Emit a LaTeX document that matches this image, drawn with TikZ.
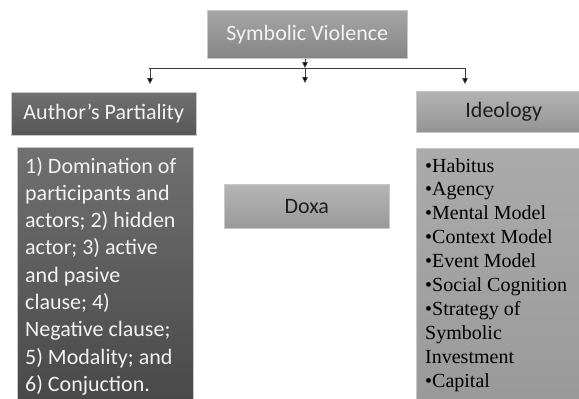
\documentclass[tikz,border=0pt]{standalone}
\usepackage{fontspec}
\setmainfont{Carlito}
\newfontfamily\listfont{Liberation Serif}
\usetikzlibrary{arrows.meta}

\definecolor{lighttext}{HTML}{F2F2F2}
\definecolor{darktext}{HTML}{1E1E1E}
\definecolor{edgegray}{HTML}{C8C8C8}
\definecolor{linegray}{HTML}{3A3A3A}

\tikzset{
  box/.style={draw=edgegray, line width=0.5pt, inner sep=0pt, anchor=north west},
  headlabel/.style={font=\fontsize{22}{26}\selectfont},
  bodytext/.style={inner sep=0pt, anchor=base west, align=flush left,
    execute at begin node=\frenchspacing},
  arr/.style={draw=linegray, line width=0.8pt,
    -{Triangle[width=5.5pt,length=6pt,fill=black]}},
  link/.style={draw=linegray, line width=0.8pt},
}

\begin{document}
\begin{tikzpicture}[x=1pt,y=-1pt]
  \useasboundingbox (0,0) rectangle (579,399);

  % top concept
  \node[box, top color=black!35, bottom color=black!48,
        minimum width=200pt, minimum height=48pt] (sv) at (207,10) {};
  \node[headlabel, text=lighttext] (svt) at (sv.center) {Symbolic Violence};

  % left column
  \node[box, top color=black!56, bottom color=black!66,
        minimum width=185pt, minimum height=43pt] (ap) at (11,92) {};
  \node[headlabel, text=lighttext] (apt) at (ap.center) {Author’s Partiality};

  \node[box, top color=black!56, bottom color=black!72,
        minimum width=176pt, minimum height=262pt] (apbody) at (17,147) {};
  \node[bodytext, text=lighttext, text width=170pt,
        font=\fontsize{22}{27.3}\selectfont] (apbodyt) at (25,173)
    {1) Domination of\\ participants and\\ actors; 2) hidden\\ actor; 3) active\\
     and pasive\\ clause; 4)\\ Negative clause;\\ 5) Modality; and\\ 6) Conjuction.};

  % middle concept
  \node[box, top color=black!29, bottom color=black!40,
        minimum width=165pt, minimum height=44pt] (doxa) at (224,184) {};
  \node[headlabel, text=darktext] (doxat) at (doxa.center) {Doxa};

  % right column
  \node[box, top color=black!30, bottom color=black!42,
        minimum width=175pt, minimum height=41pt] (ideo) at (416,91) {};
  \node[headlabel, text=darktext] (ideot) at (ideo.center) {Ideology};

  \node[box, top color=black!33, bottom color=black!40,
        minimum width=175pt, minimum height=262pt] (idbody) at (416,148) {};
  \node[bodytext, text=black, text width=160pt,
        font=\listfont\fontsize{20}{23.9}\selectfont] (idbodyt) at (425,172)
    {•Habitus\\ •Agency\\ •Mental Model\\ •Context Model\\ •Event Model\\
     •Social Cognition\\ •Strategy of\\ Symbolic\\ Investment\\ •Capital};

  % connectors
  \coordinate (hub) at (305,68);
  \coordinate (hubl) at (149,68);
  \coordinate (hubr) at (465,68);
  \coordinate (tipl) at (150,84);
  \coordinate (tipm) at (305,83);
  \coordinate (tipr) at (465,84);

  \draw[link] (hubl) -- (hubr);
  \draw[arr] (sv.south -| hub) -- (hub);
  \draw[arr] (hub) -- (tipm);
  \draw[arr] (hubl -| tipl) -- (tipl);
  \draw[arr] (hubr) -- (tipr);
\end{tikzpicture}
\end{document}
